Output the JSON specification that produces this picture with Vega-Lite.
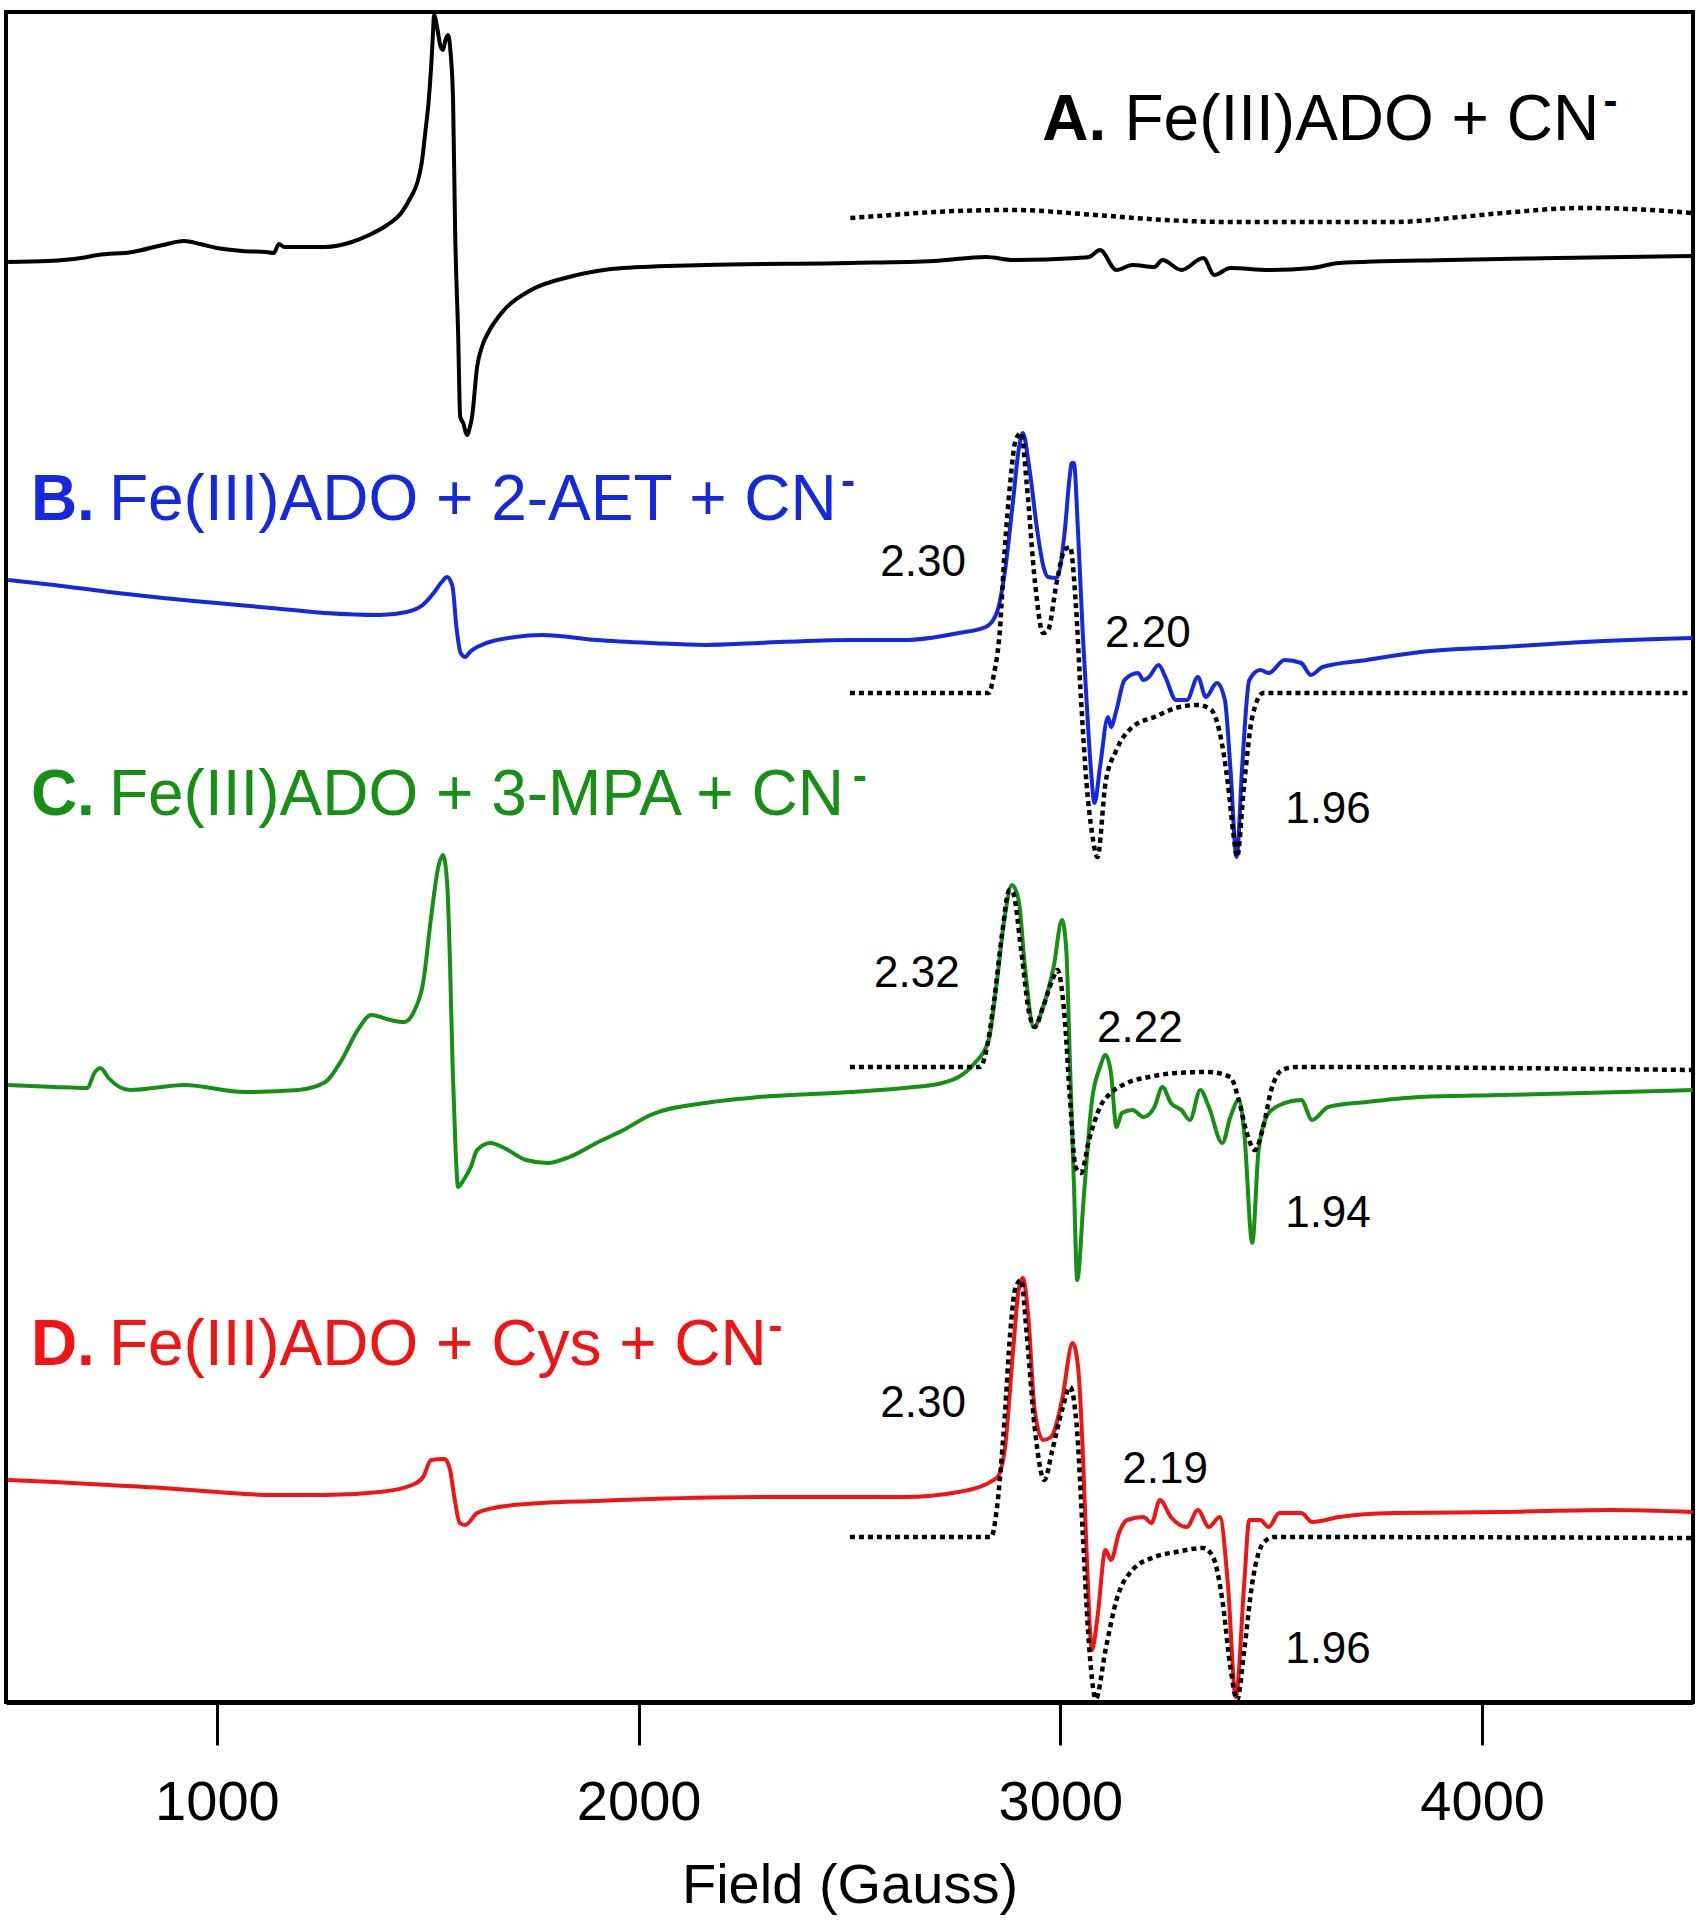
{
  "$schema": "https://vega.github.io/schema/vega-lite/v6.json",
  "autosize": "none",
  "width": 1687,
  "height": 1690,
  "padding": {"left": 6, "top": 12, "right": 9, "bottom": 218},
  "background": "white",
  "config": {
    "view": {"stroke": "#000000", "strokeWidth": 4},
    "font": "Liberation Sans"
  },
  "datasets": {
    "spectra": [
      {"series":"A","type":"exp","field":505,"intensity":1440},{"series":"A","type":"exp","field":600,"intensity":1441},{"series":"A","type":"exp","field":678,"intensity":1444},{"series":"A","type":"exp","field":718,"intensity":1447},{"series":"A","type":"exp","field":800,"intensity":1450},{"series":"A","type":"exp","field":872,"intensity":1457},{"series":"A","type":"exp","field":922,"intensity":1461},{"series":"A","type":"exp","field":960,"intensity":1458},{"series":"A","type":"exp","field":1000,"intensity":1454},{"series":"A","type":"exp","field":1060,"intensity":1451},{"series":"A","type":"exp","field":1117,"intensity":1450},{"series":"A","type":"exp","field":1135,"intensity":1449},{"series":"A","type":"exp","field":1147,"intensity":1458},{"series":"A","type":"exp","field":1160,"intensity":1455},{"series":"A","type":"exp","field":1185,"intensity":1455},{"series":"A","type":"exp","field":1257,"intensity":1455},{"series":"A","type":"exp","field":1320,"intensity":1460},{"series":"A","type":"exp","field":1361,"intensity":1467},{"series":"A","type":"exp","field":1400,"intensity":1476},{"series":"A","type":"exp","field":1437,"intensity":1489},{"series":"A","type":"exp","field":1460,"intensity":1505},{"series":"A","type":"exp","field":1475,"intensity":1519},{"series":"A","type":"exp","field":1486,"intensity":1540},{"series":"A","type":"exp","field":1494,"intensity":1569},{"series":"A","type":"exp","field":1502,"intensity":1600},{"series":"A","type":"exp","field":1508,"intensity":1635},{"series":"A","type":"exp","field":1512,"intensity":1665},{"series":"A","type":"exp","field":1515,"intensity":1687},{"series":"A","type":"exp","field":1522,"intensity":1675},{"series":"A","type":"exp","field":1530,"intensity":1656},{"series":"A","type":"exp","field":1536,"intensity":1652},{"series":"A","type":"exp","field":1542,"intensity":1662},{"series":"A","type":"exp","field":1548,"intensity":1667},{"series":"A","type":"exp","field":1554,"intensity":1650},{"series":"A","type":"exp","field":1560,"intensity":1602},{"series":"A","type":"exp","field":1565,"intensity":1469},{"series":"A","type":"exp","field":1572,"intensity":1369},{"series":"A","type":"exp","field":1577,"intensity":1285},{"series":"A","type":"exp","field":1584,"intensity":1279},{"series":"A","type":"exp","field":1593,"intensity":1267},{"series":"A","type":"exp","field":1600,"intensity":1275},{"series":"A","type":"exp","field":1605,"intensity":1285},{"series":"A","type":"exp","field":1617,"intensity":1335},{"series":"A","type":"exp","field":1630,"intensity":1357},{"series":"A","type":"exp","field":1643,"intensity":1369},{"series":"A","type":"exp","field":1681,"intensity":1392},{"series":"A","type":"exp","field":1745,"intensity":1412},{"series":"A","type":"exp","field":1835,"intensity":1425},{"series":"A","type":"exp","field":1963,"intensity":1434},{"series":"A","type":"exp","field":2158,"intensity":1437},{"series":"A","type":"exp","field":2502,"intensity":1439},{"series":"A","type":"exp","field":2700,"intensity":1441},{"series":"A","type":"exp","field":2824,"intensity":1445},{"series":"A","type":"exp","field":2888,"intensity":1442},{"series":"A","type":"exp","field":3040,"intensity":1444},{"series":"A","type":"exp","field":3068,"intensity":1445},{"series":"A","type":"exp","field":3094,"intensity":1452},{"series":"A","type":"exp","field":3133,"intensity":1432},{"series":"A","type":"exp","field":3171,"intensity":1437},{"series":"A","type":"exp","field":3223,"intensity":1435},{"series":"A","type":"exp","field":3242,"intensity":1442},{"series":"A","type":"exp","field":3287,"intensity":1432},{"series":"A","type":"exp","field":3339,"intensity":1444},{"series":"A","type":"exp","field":3365,"intensity":1427},{"series":"A","type":"exp","field":3403,"intensity":1434},{"series":"A","type":"exp","field":3494,"intensity":1432},{"series":"A","type":"exp","field":3597,"intensity":1434},{"series":"A","type":"exp","field":3661,"intensity":1439},{"series":"A","type":"exp","field":3920,"intensity":1442},{"series":"A","type":"exp","field":4178,"intensity":1444},{"series":"A","type":"exp","field":4498,"intensity":1446},

      {"series":"A","type":"sim","field":2502,"intensity":1484},{"series":"A","type":"sim","field":2600,"intensity":1487},{"series":"A","type":"sim","field":2700,"intensity":1490},{"series":"A","type":"sim","field":2888,"intensity":1492},{"series":"A","type":"sim","field":3083,"intensity":1487},{"series":"A","type":"sim","field":3250,"intensity":1482},{"series":"A","type":"sim","field":3403,"intensity":1480},{"series":"A","type":"sim","field":3600,"intensity":1480},{"series":"A","type":"sim","field":3790,"intensity":1480},{"series":"A","type":"sim","field":3950,"intensity":1485},{"series":"A","type":"sim","field":4048,"intensity":1489},{"series":"A","type":"sim","field":4242,"intensity":1494},{"series":"A","type":"sim","field":4400,"intensity":1492},{"series":"A","type":"sim","field":4498,"intensity":1489},

      {"series":"B","type":"exp","field":505,"intensity":1122},{"series":"B","type":"exp","field":614,"intensity":1117},{"series":"B","type":"exp","field":743,"intensity":1110},{"series":"B","type":"exp","field":872,"intensity":1104},{"series":"B","type":"exp","field":1000,"intensity":1099},{"series":"B","type":"exp","field":1129,"intensity":1094},{"series":"B","type":"exp","field":1257,"intensity":1089},{"series":"B","type":"exp","field":1386,"intensity":1087},{"series":"B","type":"exp","field":1450,"intensity":1090},{"series":"B","type":"exp","field":1488,"intensity":1097},{"series":"B","type":"exp","field":1514,"intensity":1109},{"series":"B","type":"exp","field":1533,"intensity":1120},{"series":"B","type":"exp","field":1546,"intensity":1125},{"series":"B","type":"exp","field":1555,"intensity":1120},{"series":"B","type":"exp","field":1559,"intensity":1115},{"series":"B","type":"exp","field":1568,"intensity":1075},{"series":"B","type":"exp","field":1578,"intensity":1049},{"series":"B","type":"exp","field":1589,"intensity":1045},{"series":"B","type":"exp","field":1600,"intensity":1050},{"series":"B","type":"exp","field":1617,"intensity":1055},{"series":"B","type":"exp","field":1707,"intensity":1065},{"series":"B","type":"exp","field":1771,"intensity":1067},{"series":"B","type":"exp","field":1900,"intensity":1062},{"series":"B","type":"exp","field":2028,"intensity":1059},{"series":"B","type":"exp","field":2157,"intensity":1057},{"series":"B","type":"exp","field":2285,"intensity":1059},{"series":"B","type":"exp","field":2501,"intensity":1062},{"series":"B","type":"exp","field":2630,"intensity":1062},{"series":"B","type":"exp","field":2759,"intensity":1069},{"series":"B","type":"exp","field":2823,"intensity":1075},{"series":"B","type":"exp","field":2849,"intensity":1089},{"series":"B","type":"exp","field":2868,"intensity":1129},{"series":"B","type":"exp","field":2888,"intensity":1202},{"series":"B","type":"exp","field":2901,"intensity":1252},{"series":"B","type":"exp","field":2911,"intensity":1269},{"series":"B","type":"exp","field":2926,"intensity":1235},{"series":"B","type":"exp","field":2946,"intensity":1169},{"series":"B","type":"exp","field":2960,"intensity":1135},{"series":"B","type":"exp","field":2971,"intensity":1125},{"series":"B","type":"exp","field":2991,"intensity":1124},{"series":"B","type":"exp","field":3010,"intensity":1169},{"series":"B","type":"exp","field":3022,"intensity":1225},{"series":"B","type":"exp","field":3027,"intensity":1239},{"series":"B","type":"exp","field":3032,"intensity":1239},{"series":"B","type":"exp","field":3042,"intensity":1169},{"series":"B","type":"exp","field":3053,"intensity":1069},{"series":"B","type":"exp","field":3062,"intensity":1002},{"series":"B","type":"exp","field":3072,"intensity":935},{"series":"B","type":"exp","field":3081,"intensity":899},{"series":"B","type":"exp","field":3094,"intensity":935},{"series":"B","type":"exp","field":3113,"intensity":985},{"series":"B","type":"exp","field":3120,"intensity":975},{"series":"B","type":"exp","field":3133,"intensity":992},{"series":"B","type":"exp","field":3152,"intensity":1022},{"series":"B","type":"exp","field":3184,"intensity":1029},{"series":"B","type":"exp","field":3197,"intensity":1022},{"series":"B","type":"exp","field":3210,"intensity":1025},{"series":"B","type":"exp","field":3233,"intensity":1037},{"series":"B","type":"exp","field":3249,"intensity":1025},{"series":"B","type":"exp","field":3274,"intensity":1002},{"series":"B","type":"exp","field":3300,"intensity":1002},{"series":"B","type":"exp","field":3326,"intensity":1025},{"series":"B","type":"exp","field":3345,"intensity":1005},{"series":"B","type":"exp","field":3371,"intensity":1019},{"series":"B","type":"exp","field":3390,"intensity":1002},{"series":"B","type":"exp","field":3403,"intensity":935},{"series":"B","type":"exp","field":3418,"intensity":845},{"series":"B","type":"exp","field":3431,"intensity":935},{"series":"B","type":"exp","field":3448,"intensity":1022},{"series":"B","type":"exp","field":3474,"intensity":1032},{"series":"B","type":"exp","field":3494,"intensity":1029},{"series":"B","type":"exp","field":3532,"intensity":1042},{"series":"B","type":"exp","field":3571,"intensity":1039},{"series":"B","type":"exp","field":3594,"intensity":1027},{"series":"B","type":"exp","field":3622,"intensity":1035},{"series":"B","type":"exp","field":3726,"intensity":1042},{"series":"B","type":"exp","field":3854,"intensity":1050},{"series":"B","type":"exp","field":4048,"intensity":1055},{"series":"B","type":"exp","field":4241,"intensity":1060},{"series":"B","type":"exp","field":4499,"intensity":1064},

      {"series":"B","type":"sim","field":2501,"intensity":1009},{"series":"B","type":"sim","field":2830,"intensity":1009},{"series":"B","type":"sim","field":2843,"intensity":1029},{"series":"B","type":"sim","field":2856,"intensity":1069},{"series":"B","type":"sim","field":2868,"intensity":1152},{"series":"B","type":"sim","field":2881,"intensity":1219},{"series":"B","type":"sim","field":2894,"intensity":1262},{"series":"B","type":"sim","field":2907,"intensity":1269},{"series":"B","type":"sim","field":2920,"intensity":1219},{"series":"B","type":"sim","field":2940,"intensity":1119},{"series":"B","type":"sim","field":2959,"intensity":1069},{"series":"B","type":"sim","field":2971,"intensity":1072},{"series":"B","type":"sim","field":2991,"intensity":1119},{"series":"B","type":"sim","field":3010,"intensity":1152},{"series":"B","type":"sim","field":3023,"intensity":1155},{"series":"B","type":"sim","field":3036,"intensity":1102},{"series":"B","type":"sim","field":3049,"intensity":1002},{"series":"B","type":"sim","field":3062,"intensity":919},{"series":"B","type":"sim","field":3075,"intensity":869},{"series":"B","type":"sim","field":3088,"intensity":845},{"series":"B","type":"sim","field":3107,"intensity":919},{"series":"B","type":"sim","field":3133,"intensity":952},{"series":"B","type":"sim","field":3171,"intensity":975},{"series":"B","type":"sim","field":3223,"intensity":985},{"series":"B","type":"sim","field":3274,"intensity":994},{"series":"B","type":"sim","field":3326,"intensity":997},{"series":"B","type":"sim","field":3358,"intensity":992},{"series":"B","type":"sim","field":3378,"intensity":969},{"series":"B","type":"sim","field":3397,"intensity":919},{"series":"B","type":"sim","field":3410,"intensity":869},{"series":"B","type":"sim","field":3419,"intensity":845},{"series":"B","type":"sim","field":3436,"intensity":919},{"series":"B","type":"sim","field":3455,"intensity":985},{"series":"B","type":"sim","field":3481,"intensity":1009},{"series":"B","type":"sim","field":4499,"intensity":1009},

      {"series":"C","type":"exp","field":505,"intensity":617},{"series":"C","type":"exp","field":614,"intensity":615},{"series":"C","type":"exp","field":692,"intensity":614},{"series":"C","type":"exp","field":711,"intensity":630},{"series":"C","type":"exp","field":724,"intensity":634},{"series":"C","type":"exp","field":743,"intensity":624},{"series":"C","type":"exp","field":794,"intensity":612},{"series":"C","type":"exp","field":923,"intensity":617},{"series":"C","type":"exp","field":1064,"intensity":610},{"series":"C","type":"exp","field":1193,"intensity":612},{"series":"C","type":"exp","field":1257,"intensity":620},{"series":"C","type":"exp","field":1296,"intensity":642},{"series":"C","type":"exp","field":1334,"intensity":672},{"series":"C","type":"exp","field":1366,"intensity":687},{"series":"C","type":"exp","field":1411,"intensity":682},{"series":"C","type":"exp","field":1444,"intensity":680},{"series":"C","type":"exp","field":1469,"intensity":692},{"series":"C","type":"exp","field":1489,"intensity":719},{"series":"C","type":"exp","field":1508,"intensity":785},{"series":"C","type":"exp","field":1525,"intensity":835},{"series":"C","type":"exp","field":1536,"intensity":847},{"series":"C","type":"exp","field":1546,"intensity":819},{"series":"C","type":"exp","field":1553,"intensity":735},{"series":"C","type":"exp","field":1559,"intensity":635},{"series":"C","type":"exp","field":1566,"intensity":552},{"series":"C","type":"exp","field":1572,"intensity":515},{"series":"C","type":"exp","field":1585,"intensity":522},{"series":"C","type":"exp","field":1602,"intensity":535},{"series":"C","type":"exp","field":1617,"intensity":552},{"series":"C","type":"exp","field":1649,"intensity":559},{"series":"C","type":"exp","field":1681,"intensity":554},{"series":"C","type":"exp","field":1733,"intensity":542},{"series":"C","type":"exp","field":1784,"intensity":539},{"series":"C","type":"exp","field":1836,"intensity":545},{"series":"C","type":"exp","field":1900,"intensity":559},{"series":"C","type":"exp","field":1964,"intensity":572},{"series":"C","type":"exp","field":2028,"intensity":587},{"series":"C","type":"exp","field":2157,"intensity":599},{"series":"C","type":"exp","field":2286,"intensity":605},{"series":"C","type":"exp","field":2501,"intensity":610},{"series":"C","type":"exp","field":2630,"intensity":614},{"series":"C","type":"exp","field":2720,"intensity":619},{"series":"C","type":"exp","field":2797,"intensity":639},{"series":"C","type":"exp","field":2830,"intensity":662},{"series":"C","type":"exp","field":2849,"intensity":719},{"series":"C","type":"exp","field":2868,"intensity":785},{"series":"C","type":"exp","field":2885,"intensity":817},{"series":"C","type":"exp","field":2901,"intensity":802},{"series":"C","type":"exp","field":2916,"intensity":735},{"series":"C","type":"exp","field":2937,"intensity":675},{"series":"C","type":"exp","field":2959,"intensity":695},{"series":"C","type":"exp","field":2984,"intensity":735},{"series":"C","type":"exp","field":3004,"intensity":782},{"series":"C","type":"exp","field":3014,"intensity":752},{"series":"C","type":"exp","field":3023,"intensity":635},{"series":"C","type":"exp","field":3032,"intensity":519},{"series":"C","type":"exp","field":3040,"intensity":422},{"series":"C","type":"exp","field":3055,"intensity":502},{"series":"C","type":"exp","field":3075,"intensity":602},{"series":"C","type":"exp","field":3094,"intensity":635},{"series":"C","type":"exp","field":3107,"intensity":647},{"series":"C","type":"exp","field":3120,"intensity":629},{"series":"C","type":"exp","field":3133,"intensity":575},{"series":"C","type":"exp","field":3146,"intensity":589},{"series":"C","type":"exp","field":3171,"intensity":592},{"series":"C","type":"exp","field":3197,"intensity":585},{"series":"C","type":"exp","field":3223,"intensity":595},{"series":"C","type":"exp","field":3242,"intensity":615},{"series":"C","type":"exp","field":3262,"intensity":599},{"series":"C","type":"exp","field":3287,"intensity":592},{"series":"C","type":"exp","field":3307,"intensity":582},{"series":"C","type":"exp","field":3332,"intensity":612},{"series":"C","type":"exp","field":3352,"intensity":595},{"series":"C","type":"exp","field":3384,"intensity":559},{"series":"C","type":"exp","field":3403,"intensity":585},{"series":"C","type":"exp","field":3423,"intensity":602},{"series":"C","type":"exp","field":3436,"intensity":569},{"series":"C","type":"exp","field":3455,"intensity":459},{"series":"C","type":"exp","field":3470,"intensity":552},{"series":"C","type":"exp","field":3494,"intensity":589},{"series":"C","type":"exp","field":3532,"intensity":599},{"series":"C","type":"exp","field":3571,"intensity":602},{"series":"C","type":"exp","field":3597,"intensity":582},{"series":"C","type":"exp","field":3635,"intensity":595},{"series":"C","type":"exp","field":3726,"intensity":600},{"series":"C","type":"exp","field":3854,"intensity":605},{"series":"C","type":"exp","field":4048,"intensity":607},{"series":"C","type":"exp","field":4241,"intensity":609},{"series":"C","type":"exp","field":4499,"intensity":612},

      {"series":"C","type":"sim","field":2501,"intensity":635},{"series":"C","type":"sim","field":2810,"intensity":635},{"series":"C","type":"sim","field":2823,"intensity":649},{"series":"C","type":"sim","field":2843,"intensity":702},{"series":"C","type":"sim","field":2862,"intensity":769},{"series":"C","type":"sim","field":2879,"intensity":812},{"series":"C","type":"sim","field":2888,"intensity":809},{"series":"C","type":"sim","field":2907,"intensity":752},{"series":"C","type":"sim","field":2926,"intensity":689},{"series":"C","type":"sim","field":2939,"intensity":675},{"series":"C","type":"sim","field":2959,"intensity":695},{"series":"C","type":"sim","field":2981,"intensity":722},{"series":"C","type":"sim","field":2993,"intensity":732},{"series":"C","type":"sim","field":3010,"intensity":685},{"series":"C","type":"sim","field":3023,"intensity":602},{"series":"C","type":"sim","field":3036,"intensity":535},{"series":"C","type":"sim","field":3049,"intensity":529},{"series":"C","type":"sim","field":3068,"intensity":562},{"series":"C","type":"sim","field":3094,"intensity":595},{"series":"C","type":"sim","field":3120,"intensity":609},{"series":"C","type":"sim","field":3158,"intensity":619},{"series":"C","type":"sim","field":3210,"intensity":625},{"series":"C","type":"sim","field":3274,"intensity":629},{"series":"C","type":"sim","field":3352,"intensity":630},{"series":"C","type":"sim","field":3403,"intensity":625},{"series":"C","type":"sim","field":3423,"intensity":602},{"series":"C","type":"sim","field":3442,"intensity":569},{"series":"C","type":"sim","field":3461,"intensity":552},{"series":"C","type":"sim","field":3481,"intensity":575},{"series":"C","type":"sim","field":3500,"intensity":612},{"series":"C","type":"sim","field":3526,"intensity":632},{"series":"C","type":"sim","field":3558,"intensity":635},{"series":"C","type":"sim","field":4499,"intensity":632},

      {"series":"D","type":"exp","field":505,"intensity":222},{"series":"D","type":"exp","field":614,"intensity":220},{"series":"D","type":"exp","field":743,"intensity":217},{"series":"D","type":"exp","field":872,"intensity":214},{"series":"D","type":"exp","field":1000,"intensity":210},{"series":"D","type":"exp","field":1129,"intensity":207},{"series":"D","type":"exp","field":1257,"intensity":207},{"series":"D","type":"exp","field":1386,"intensity":210},{"series":"D","type":"exp","field":1463,"intensity":217},{"series":"D","type":"exp","field":1489,"intensity":225},{"series":"D","type":"exp","field":1508,"intensity":242},{"series":"D","type":"exp","field":1540,"intensity":243},{"series":"D","type":"exp","field":1553,"intensity":232},{"series":"D","type":"exp","field":1563,"intensity":205},{"series":"D","type":"exp","field":1576,"intensity":179},{"series":"D","type":"exp","field":1589,"intensity":177},{"series":"D","type":"exp","field":1617,"intensity":189},{"series":"D","type":"exp","field":1669,"intensity":195},{"series":"D","type":"exp","field":1771,"intensity":199},{"series":"D","type":"exp","field":1900,"intensity":201},{"series":"D","type":"exp","field":2028,"intensity":203},{"series":"D","type":"exp","field":2286,"intensity":205},{"series":"D","type":"exp","field":2501,"intensity":205},{"series":"D","type":"exp","field":2630,"intensity":205},{"series":"D","type":"exp","field":2759,"intensity":210},{"series":"D","type":"exp","field":2849,"intensity":224},{"series":"D","type":"exp","field":2868,"intensity":252},{"series":"D","type":"exp","field":2888,"intensity":352},{"series":"D","type":"exp","field":2901,"intensity":412},{"series":"D","type":"exp","field":2911,"intensity":424},{"series":"D","type":"exp","field":2924,"intensity":385},{"series":"D","type":"exp","field":2939,"intensity":292},{"series":"D","type":"exp","field":2959,"intensity":262},{"series":"D","type":"exp","field":2978,"intensity":265},{"series":"D","type":"exp","field":3004,"intensity":302},{"series":"D","type":"exp","field":3029,"intensity":359},{"series":"D","type":"exp","field":3042,"intensity":335},{"series":"D","type":"exp","field":3053,"intensity":252},{"series":"D","type":"exp","field":3062,"intensity":152},{"series":"D","type":"exp","field":3075,"intensity":52},{"series":"D","type":"exp","field":3088,"intensity":85},{"series":"D","type":"exp","field":3107,"intensity":152},{"series":"D","type":"exp","field":3120,"intensity":142},{"series":"D","type":"exp","field":3139,"intensity":169},{"series":"D","type":"exp","field":3158,"intensity":182},{"series":"D","type":"exp","field":3197,"intensity":185},{"series":"D","type":"exp","field":3216,"intensity":179},{"series":"D","type":"exp","field":3236,"intensity":202},{"series":"D","type":"exp","field":3262,"intensity":185},{"series":"D","type":"exp","field":3300,"intensity":175},{"series":"D","type":"exp","field":3326,"intensity":192},{"series":"D","type":"exp","field":3352,"intensity":175},{"series":"D","type":"exp","field":3378,"intensity":185},{"series":"D","type":"exp","field":3397,"intensity":119},{"series":"D","type":"exp","field":3416,"intensity":5},{"series":"D","type":"exp","field":3436,"intensity":119},{"series":"D","type":"exp","field":3448,"intensity":182},{"series":"D","type":"exp","field":3474,"intensity":182},{"series":"D","type":"exp","field":3494,"intensity":175},{"series":"D","type":"exp","field":3519,"intensity":189},{"series":"D","type":"exp","field":3571,"intensity":189},{"series":"D","type":"exp","field":3597,"intensity":180},{"series":"D","type":"exp","field":3661,"intensity":185},{"series":"D","type":"exp","field":3790,"intensity":189},{"series":"D","type":"exp","field":4048,"intensity":190},{"series":"D","type":"exp","field":4306,"intensity":192},{"series":"D","type":"exp","field":4499,"intensity":190},

      {"series":"D","type":"sim","field":2501,"intensity":165},{"series":"D","type":"sim","field":2836,"intensity":165},{"series":"D","type":"sim","field":2849,"intensity":192},{"series":"D","type":"sim","field":2868,"intensity":285},{"series":"D","type":"sim","field":2881,"intensity":369},{"series":"D","type":"sim","field":2894,"intensity":415},{"series":"D","type":"sim","field":2907,"intensity":422},{"series":"D","type":"sim","field":2920,"intensity":369},{"series":"D","type":"sim","field":2939,"intensity":275},{"series":"D","type":"sim","field":2962,"intensity":222},{"series":"D","type":"sim","field":2981,"intensity":252},{"series":"D","type":"sim","field":3004,"intensity":292},{"series":"D","type":"sim","field":3023,"intensity":315},{"series":"D","type":"sim","field":3040,"intensity":269},{"series":"D","type":"sim","field":3053,"intensity":169},{"series":"D","type":"sim","field":3066,"intensity":69},{"series":"D","type":"sim","field":3084,"intensity":3},{"series":"D","type":"sim","field":3107,"intensity":52},{"series":"D","type":"sim","field":3133,"intensity":102},{"series":"D","type":"sim","field":3171,"intensity":132},{"series":"D","type":"sim","field":3223,"intensity":145},{"series":"D","type":"sim","field":3274,"intensity":150},{"series":"D","type":"sim","field":3339,"intensity":154},{"series":"D","type":"sim","field":3362,"intensity":145},{"series":"D","type":"sim","field":3384,"intensity":102},{"series":"D","type":"sim","field":3403,"intensity":35},{"series":"D","type":"sim","field":3419,"intensity":2},{"series":"D","type":"sim","field":3436,"intensity":52},{"series":"D","type":"sim","field":3455,"intensity":119},{"series":"D","type":"sim","field":3481,"intensity":159},{"series":"D","type":"sim","field":3506,"intensity":165},{"series":"D","type":"sim","field":4499,"intensity":164}
    ],
    "notes": [
      {"kind":"letter","series":"A","field":2957,"intensity":1562,"text":"A."},
      {"kind":"desc","series":"A","field":3152,"intensity":1562,"text":"Fe(III)ADO + CN"},
      {"kind":"sup","series":"A","field":4288,"intensity":1587,"text":"-"},
      {"kind":"letter","series":"B","field":559,"intensity":1182,"text":"B."},
      {"kind":"desc","series":"B","field":744,"intensity":1182,"text":"Fe(III)ADO + 2-AET + CN"},
      {"kind":"sup","series":"B","field":2480,"intensity":1207,"text":"-"},
      {"kind":"letter","series":"C","field":559,"intensity":887,"text":"C."},
      {"kind":"desc","series":"C","field":744,"intensity":887,"text":"Fe(III)ADO + 3-MPA + CN"},
      {"kind":"sup","series":"C","field":2508,"intensity":912,"text":"-"},
      {"kind":"letter","series":"D","field":559,"intensity":337,"text":"D."},
      {"kind":"desc","series":"D","field":744,"intensity":337,"text":"Fe(III)ADO + Cys + CN"},
      {"kind":"sup","series":"D","field":2308,"intensity":362,"text":"-"},
      {"kind":"g","series":"g","field":2573,"intensity":1126,"text":"2.30"},
      {"kind":"g","series":"g","field":3106,"intensity":1055,"text":"2.20"},
      {"kind":"g","series":"g","field":3533,"intensity":879,"text":"1.96"},
      {"kind":"g","series":"g","field":2558,"intensity":715,"text":"2.32"},
      {"kind":"g","series":"g","field":3087,"intensity":660,"text":"2.22"},
      {"kind":"g","series":"g","field":3533,"intensity":475,"text":"1.94"},
      {"kind":"g","series":"g","field":2573,"intensity":285,"text":"2.30"},
      {"kind":"g","series":"g","field":3147,"intensity":219,"text":"2.19"},
      {"kind":"g","series":"g","field":3533,"intensity":39,"text":"1.96"}
    ]
  },
  "encoding": {
    "x": {
      "field": "field", "type": "quantitative",
      "scale": {"domain": [500, 4500], "nice": false, "zero": false},
      "axis": {
        "title": "Field (Gauss)",
        "values": [1000, 2000, 3000, 4000],
        "format": "d",
        "grid": false,
        "domainColor": "#000000", "domainWidth": 5,
        "tickColor": "#000000", "tickWidth": 3, "tickSize": 43,
        "labelFont": "Liberation Sans", "labelFontSize": 56, "labelColor": "#000000", "labelPadding": 30,
        "titleFont": "Liberation Sans", "titleFontSize": 56, "titleFontWeight": "normal", "titleColor": "#000000", "titlePadding": 28
      }
    },
    "y": {
      "field": "intensity", "type": "quantitative",
      "scale": {"domain": [0, 1690], "nice": false, "zero": false},
      "axis": null
    }
  },
  "layer": [
    {
      "data": {"name": "spectra"},
      "transform": [{"filter": "datum.type === 'exp'"}],
      "mark": {"type": "line", "strokeWidth": 4, "clip": true, "strokeJoin": "round", "interpolate": "monotone"},
      "encoding": {
        "color": {"field": "series", "type": "nominal", "legend": null,
          "scale": {"domain": ["A","B","C","D","g"], "range": ["#000000","#1428e0","#159015","#f21414","#000000"]}},
        "detail": {"field": "series"}
      }
    },
    {
      "data": {"name": "spectra"},
      "transform": [{"filter": "datum.type === 'sim'"}],
      "mark": {"type": "line", "strokeWidth": 4.5, "color": "#000000", "strokeDash": [5, 4], "clip": true, "interpolate": "monotone"},
      "encoding": {"detail": {"field": "series"}}
    },
    {
      "data": {"name": "notes"},
      "transform": [{"filter": "datum.kind === 'letter'"}],
      "mark": {"type": "text", "align": "left", "baseline": "alphabetic", "font": "Liberation Sans", "fontSize": 64, "fontWeight": "bold"},
      "encoding": {
        "text": {"field": "text"},
        "color": {"field": "series", "type": "nominal", "legend": null}
      }
    },
    {
      "data": {"name": "notes"},
      "transform": [{"filter": "datum.kind === 'desc'"}],
      "mark": {"type": "text", "align": "left", "baseline": "alphabetic", "font": "Liberation Sans", "fontSize": 64},
      "encoding": {
        "text": {"field": "text"},
        "color": {"field": "series", "type": "nominal", "legend": null}
      }
    },
    {
      "data": {"name": "notes"},
      "transform": [{"filter": "datum.kind === 'sup'"}],
      "mark": {"type": "text", "align": "left", "baseline": "alphabetic", "font": "Liberation Sans", "fontSize": 42, "fontWeight": "bold"},
      "encoding": {
        "text": {"field": "text"},
        "color": {"field": "series", "type": "nominal", "legend": null}
      }
    },
    {
      "data": {"name": "notes"},
      "transform": [{"filter": "datum.kind === 'g'"}],
      "mark": {"type": "text", "align": "left", "baseline": "alphabetic", "font": "Liberation Sans", "fontSize": 44},
      "encoding": {
        "text": {"field": "text"},
        "color": {"field": "series", "type": "nominal", "legend": null}
      }
    }
  ]
}
